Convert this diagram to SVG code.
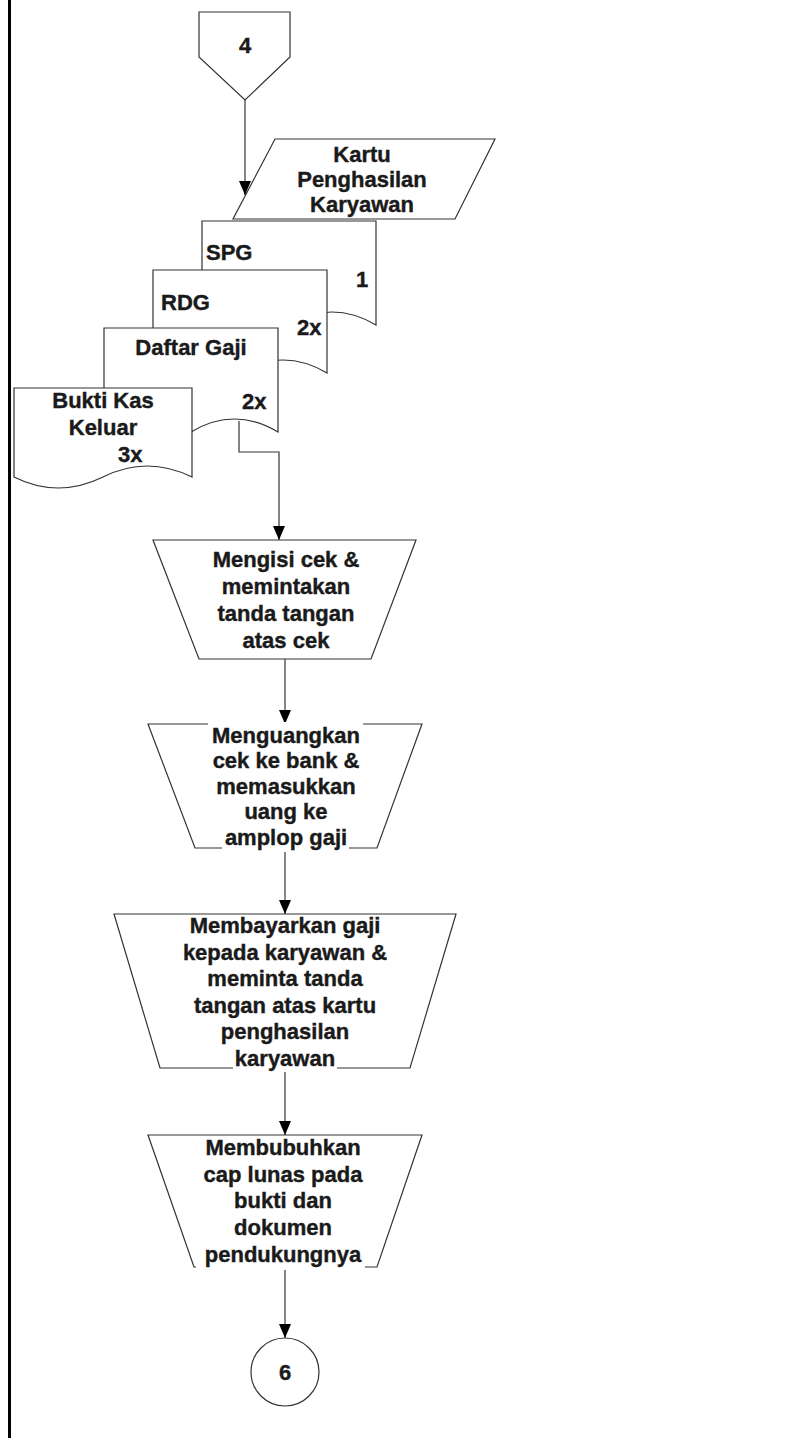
<svg xmlns="http://www.w3.org/2000/svg" width="811" height="1438" viewBox="0 0 811 1438">
<style>
.s{fill:#fff;stroke:#333;stroke-width:1.2}
.t{font-family:"Liberation Sans",Arial,sans-serif;font-weight:bold;font-size:22px;fill:#1a1a1a;stroke:#1a1a1a;stroke-width:0.4}
.m{text-anchor:middle}
.c{fill:none;stroke:#333;stroke-width:1.2}
.bg{fill:#fff}
</style>
<defs>
<marker id="ah" markerUnits="userSpaceOnUse" markerWidth="14" markerHeight="12" refX="14" refY="6" orient="auto">
<path d="M0,0 L14,6 L0,12 Z" fill="#000"/>
</marker>
</defs>
<rect x="0" y="0" width="811" height="1438" fill="#fff"/>
<rect x="8" y="0" width="3" height="1438" fill="#000"/>

<g id="conn4">
<polygon class="s" points="199,12 290,12 290,57 245,100 199,57"/>
<text class="t m" x="245" y="53">4</text>
</g>

<g id="kartu">
<polygon class="s" points="275,139 495,139 455,219 233,219"/>
<text class="t m" x="362" y="162">Kartu</text>
<text class="t m" x="362" y="187">Penghasilan</text>
<text class="t m" x="362" y="212">Karyawan</text>
</g>

<g id="spg">
<path class="s" d="M202,221 H376 V325 Q332,299 289,325 Q245,351 202,325 Z"/>
<text class="t" x="206" y="260">SPG</text>
<text class="t m" x="362" y="287">1</text>
</g>

<g id="rdg">
<path class="s" d="M153,270 H327 V373 Q283,347 240,373 Q196,399 153,373 Z"/>
<text class="t" x="161" y="310">RDG</text>
<text class="t" x="297" y="335">2x</text>
</g>

<g id="daftar">
<path class="s" d="M104,328 H278 V432 Q234,406 191,432 Q147,458 104,432 Z"/>
<text class="t m" x="191" y="355">Daftar Gaji</text>
<text class="t" x="242" y="409">2x</text>
</g>

<g id="bukti">
<path class="s" d="M14,388 H192 V477 Q147,455 103,477 Q58,499 14,477 Z"/>
<text class="t m" x="103" y="408">Bukti Kas</text>
<text class="t m" x="103" y="435">Keluar</text>
<text class="t" x="118" y="462">3x</text>
</g>

<g id="connectors">
<path class="c" d="M245,100 V195" marker-end="url(#ah)"/>
<path class="c" d="M239,421 V452 H279 V540" marker-end="url(#ah)"/>
<path class="c" d="M285,659 V724" marker-end="url(#ah)"/>
<path class="c" d="M285,848 V914" marker-end="url(#ah)"/>
<path class="c" d="M285,1068 V1135" marker-end="url(#ah)"/>
<path class="c" d="M285,1267 V1338" marker-end="url(#ah)"/>
</g>

<g id="proc1">
<polygon class="s" points="153,540 416,540 371,659 199,659"/>
<text class="t m" x="286" y="567">Mengisi cek &amp;</text>
<text class="t m" x="286" y="594">memintakan</text>
<text class="t m" x="286" y="621">tanda tangan</text>
<text class="t m" x="286" y="648">atas cek</text>
</g>

<g id="proc2">
<polygon class="s" points="148,724 422,724 377,848 195,848"/>
<rect class="bg" x="208" y="722" width="155" height="26"/>
<rect class="bg" x="222" y="828" width="127" height="24"/>
<text class="t m" x="286" y="743">Menguangkan</text>
<text class="t m" x="286" y="768">cek ke bank &amp;</text>
<text class="t m" x="286" y="794">memasukkan</text>
<text class="t m" x="286" y="819">uang ke</text>
<text class="t m" x="286" y="845">amplop gaji</text>
</g>

<g id="proc3">
<polygon class="s" points="114,914 456,914 410,1068 160,1068"/>
<rect class="bg" x="233" y="1048" width="104" height="24"/>
<text class="t m" x="285" y="933">Membayarkan gaji</text>
<text class="t m" x="285" y="960">kepada karyawan &amp;</text>
<text class="t m" x="285" y="986">meminta tanda</text>
<text class="t m" x="285" y="1013">tangan atas kartu</text>
<text class="t m" x="285" y="1039">penghasilan</text>
<text class="t m" x="285" y="1066">karyawan</text>
</g>

<g id="proc4">
<polygon class="s" points="148,1135 422,1135 377,1267 194,1267"/>
<rect class="bg" x="196" y="1246" width="169" height="24"/>
<text class="t m" x="283" y="1155">Membubuhkan</text>
<text class="t m" x="283" y="1182">cap lunas pada</text>
<text class="t m" x="283" y="1208">bukti dan</text>
<text class="t m" x="283" y="1235">dokumen</text>
<text class="t m" x="283" y="1262">pendukungnya</text>
</g>

<g id="conn6">
<circle class="s" cx="285" cy="1372" r="34"/>
<text class="t m" x="285" y="1380">6</text>
</g>
</svg>
